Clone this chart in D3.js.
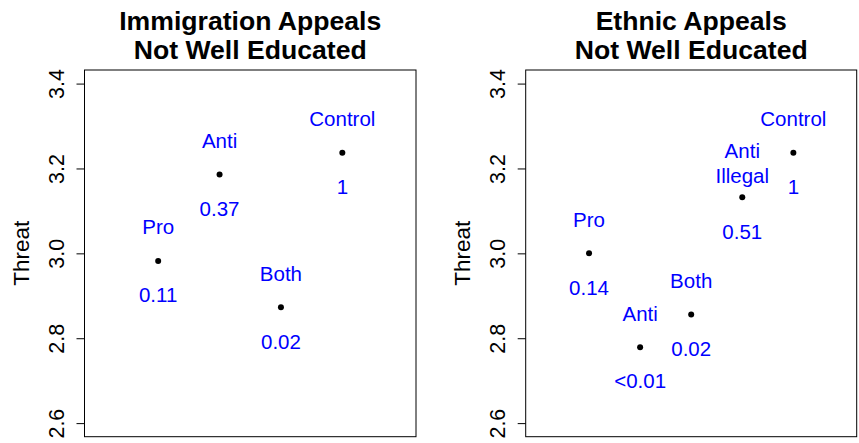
<!DOCTYPE html>
<html><head><meta charset="utf-8">
<script src="https://cdn.jsdelivr.net/npm/d3@7"></script>
<style>body{margin:0;background:#fff}svg{display:block}text{font-family:"Liberation Sans",Arial,sans-serif}</style>
</head><body>
<script>
// Panel 1: Immigration Appeals
const immCategories = ["Pro", "Anti", "Both", "Control"];
const immThreat = [2.982, 3.186, 2.873, 3.237];
const immPvalues = ["0.11", "0.37", "0.02", "1"];
// Panel 2: Ethnic Appeals
const ethCategories = ["Pro", "Anti", "Both", "Anti\nIllegal", "Control"];
const ethThreat = [3.0, 2.779, 2.856, 3.132, 3.237];
const ethPvalues = ["0.14", "<0.01", "0.02", "0.51", "1"];
const yTicks = [2.6, 2.8, 3.0, 3.2, 3.4];
const yLimits = [2.6, 3.4];
const titles = [["Immigration Appeals", "Not Well Educated"], ["Ethnic Appeals", "Not Well Educated"]];

const W = 859, H = 443;
const svg = d3.select("body").append("svg").attr("width", W).attr("height", H);

const FS = 20.5, TICK_FS = 21.5, YLAB_FS = 22.5, TITLE_FS = 26.6;
const panels = [
  {cats: immCategories, vals: immThreat, pv: immPvalues, left: 84.5, right: 416, title: titles[0]},
  {cats: ethCategories, vals: ethThreat, pv: ethPvalues, left: 525.7, right: 856.7, title: titles[1]}
];
const plotTop = 70, plotBottom = 436.7;

function expand(lo, hi) { const d = (hi - lo) * 0.04; return [lo - d, hi + d]; }

panels.forEach(p => {
  const n = p.cats.length;
  const x = d3.scaleLinear().domain(expand(0, n + 1)).range([p.left, p.right]);
  const y = d3.scaleLinear().domain(expand(yLimits[0], yLimits[1])).range([plotBottom, plotTop]);
  const g = svg.append("g");
  g.append("rect").attr("x", p.left).attr("y", plotTop).attr("width", p.right - p.left).attr("height", plotBottom - plotTop)
    .attr("fill", "none").attr("stroke", "#000").attr("stroke-width", 1);
  const ax = g.append("g").attr("transform", `translate(${p.left},0)`)
    .call(d3.axisLeft(y).tickValues(yTicks).tickSize(8).tickFormat(d3.format(".1f")));
  ax.select(".domain").remove();
  ax.selectAll(".tick line").attr("stroke", "#000");
  ax.selectAll(".tick text").attr("font-size", TICK_FS).attr("fill", "#000")
    .attr("x", null).attr("dy", null).attr("text-anchor", "middle")
    .attr("transform", "translate(-20.5,0) rotate(-90)");
  g.append("text").attr("transform", `translate(${p.left - 55.5},${(plotTop + plotBottom) / 2}) rotate(-90)`)
    .attr("text-anchor", "middle").attr("font-size", YLAB_FS).text("Threat");
  const cx = (p.left + p.right) / 2;
  g.append("text").attr("x", cx).attr("y", 29.5).attr("text-anchor", "middle").attr("font-size", TITLE_FS)
    .attr("font-weight", "bold").text(p.title[0]);
  g.append("text").attr("x", cx).attr("y", 59).attr("text-anchor", "middle").attr("font-size", TITLE_FS)
    .attr("font-weight", "bold").text(p.title[1]);
  p.cats.forEach((c, i) => {
    const px = x(i + 1), v = p.vals[i];
    g.append("circle").attr("cx", px).attr("cy", y(v)).attr("r", 3).attr("fill", "#000");
    const lines = c.split("\n");
    const lh = 25;
    const cy = y(v + 0.08);
    lines.forEach((ln, k) => {
      const off = (k - (lines.length - 1) / 2) * lh;
      g.append("text").attr("x", px).attr("y", cy + off + FS * 0.36).attr("text-anchor", "middle")
        .attr("font-size", FS).attr("fill", "#0000ff").text(ln);
    });
    g.append("text").attr("x", px).attr("y", y(v - 0.08) + FS * 0.36).attr("text-anchor", "middle")
      .attr("font-size", FS).attr("fill", "#0000ff").text(p.pv[i]);
  });
});
</script>
</body></html>
